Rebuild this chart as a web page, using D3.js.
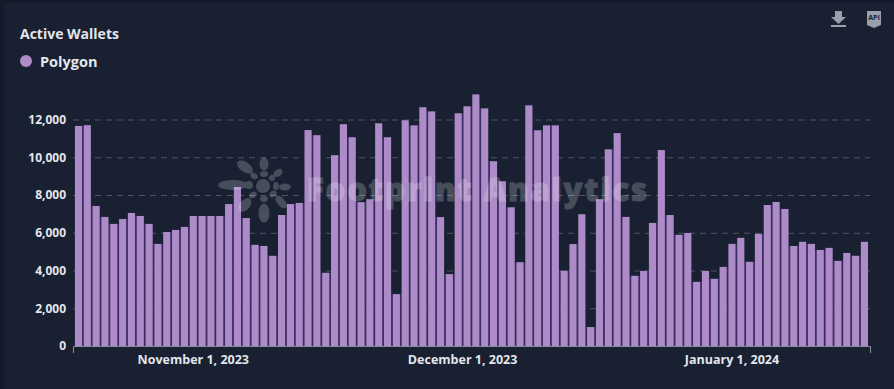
<!DOCTYPE html>
<html>
<head>
<meta charset="utf-8">
<script src="https://cdn.jsdelivr.net/npm/d3@7"></script>
<style>
  html, body { margin: 0; padding: 0; background: #131a2a; overflow: hidden; }
  text { font-family: "Open Sans", "Noto Sans", sans-serif; }
</style>
</head>
<body>
<div id="chart"></div>
<script>
const COLORS = {
  page:  '#131a2a',
  card:  '#182032',
  bar:   '#ad8bc9',
  gap:   '#3c2b60',
  text:  '#e3e6eb',
  grid:  '#4d5563',
  axis:  '#8a909b',
  icon:  '#9aa0ab',
}

const TITLE = 'Active Wallets'
const SERIES_NAME = 'Polygon'
const WATERMARK = 'Footprint Analytics'

// Une barre par jour, 19 oct. 2023 → 16 janv. 2024
const activeWallets = [
  11660, 11700, 7420, 6840, 6470, 6730, 7050, 6890, 6470, 5410,
  6040, 6150, 6310, 6890, 6890, 6890, 6890, 7520, 8420, 6780,
  5360, 5300, 4780, 6940, 7520, 7580, 11440, 11170, 3880, 10110,
  11750, 11060, 7620, 7780, 11800, 11060, 2750, 11960, 11690, 12650,
  12430, 6830, 3810, 12330, 12700, 13330, 12590, 9790, 8730, 7350,
  4440, 12750, 11430, 11690, 11690, 3990, 5400, 6980, 1005, 7780,
  10420, 11280, 6840, 3720, 3980, 6520, 10380, 6940, 5890, 5990,
  3400, 3980, 3560, 4190, 5410, 5730, 4460, 5940, 7470, 7630,
  7260, 5300, 5520, 5410, 5090, 5200, 4510, 4930, 4780, 5520,
]
const yTicks = [0, 2000, 4000, 6000, 8000, 10000, 12000]
const dateLabels = ['November 1, 2023', 'December 1, 2023', 'January 1, 2024']
const dateLabelSlots = [13, 43.5, 74]

const width = 894, height = 389
const plot = { left: 73, right: 870, top: 119.5, bottom: 346 }

const svg = d3.select('#chart').append('svg')
  .attr('width', width)
  .attr('height', height)
  .style('display', 'block')
  .attr('role', 'img')
  .attr('aria-label', `${TITLE} - ${SERIES_NAME}`)

// Carte
svg.append('rect')
  .attr('x', 4).attr('y', 3)
  .attr('width', width - 4).attr('height', height - 3)
  .attr('fill', COLORS.card)

// Echelles
const slots = d3.range(activeWallets.length)
const x = d3.scaleBand()
  .domain(slots)
  .range([74.1, 868.8])
  .paddingInner(0.19)
  .paddingOuter(0.09)

const xSlot = d3.scaleLinear()
  .domain([0, activeWallets.length - 1])
  .range([x(0) + x.bandwidth() / 2, x(activeWallets.length - 1) + x.bandwidth() / 2])

const y = d3.scaleLinear()
  .domain([0, 12000])
  .range([plot.bottom, plot.top])

// Grille pointillée
const grid = svg.append('g')
  .attr('transform', `translate(${plot.left},0)`)
  .call(d3.axisLeft(y).tickValues(yTicks.filter(d => d > 0)).tickSize(-(plot.right - plot.left)).tickFormat(''))
grid.select('.domain').remove()
grid.selectAll('.tick line')
  .attr('stroke', COLORS.grid)
  .attr('stroke-dasharray', '6 5')

// Axe Y
const yAxis = svg.append('g')
  .attr('transform', `translate(${plot.left},0)`)
  .call(d3.axisLeft(y).tickValues(yTicks).tickSize(0).tickPadding(7).tickFormat(d3.format(',')))
yAxis.select('.domain').remove()
yAxis.selectAll('.tick text')
  .attr('fill', COLORS.text)
  .attr('font-size', 12)
  .attr('font-weight', 700)
  .style('font-family', '"Open Sans", sans-serif')

// Interstices violet foncé entre barres voisines
svg.append('g').selectAll('rect')
  .data(activeWallets.slice(1))
  .join('rect')
  .attr('x', (d, i) => x(i) + x.bandwidth())
  .attr('y', (d, i) => y(Math.min(d, activeWallets[i])))
  .attr('width', x.step() - x.bandwidth())
  .attr('height', (d, i) => y(0) - y(Math.min(d, activeWallets[i])))
  .attr('fill', COLORS.gap)

// Barres
svg.append('g').selectAll('rect')
  .data(activeWallets)
  .join('rect')
  .attr('x', (d, i) => x(i))
  .attr('y', d => y(d))
  .attr('width', x.bandwidth())
  .attr('height', d => y(0) - y(d))
  .attr('fill', COLORS.bar)

// Axe X — ligne de base + petites marques aux extrémités
const xAxis = svg.append('g')
  .attr('transform', `translate(0,${plot.bottom})`)
xAxis.append('path')
  .attr('d', `M${plot.left + 0.5},7V0.5H${plot.right + 0.5}V7`)
  .attr('fill', 'none')
  .attr('stroke', COLORS.axis)
xAxis.selectAll('text')
  .data(dateLabels)
  .join('text')
  .attr('x', (d, i) => xSlot(dateLabelSlots[i]))
  .attr('y', 18)
  .attr('text-anchor', 'middle')
  .attr('fill', COLORS.text)
  .attr('font-size', 12.5)
  .attr('font-weight', 700)
  .text(d => d)

// Titre et légende
svg.append('text')
  .attr('x', 20).attr('y', 38.5)
  .attr('fill', COLORS.text)
  .attr('font-size', 14)
  .attr('font-weight', 700)
  .text(TITLE)
svg.append('circle')
  .attr('cx', 26).attr('cy', 61).attr('r', 6)
  .attr('fill', COLORS.bar)
svg.append('text')
  .attr('x', 40).attr('y', 66.5)
  .attr('fill', COLORS.text)
  .attr('font-size', 14.5)
  .attr('font-weight', 700)
  .text(SERIES_NAME)

// Filigrane
const mark = svg.append('g').attr('fill', '#ffffff').attr('opacity', 0.2)
const petals = [
  [263, 186, 7, 7, 0], [254, 176, 4, 3, 35], [264, 174, 4, 3, 0], [272, 178, 3, 3, 0],
  [276, 186, 3, 4, 0], [273, 194, 4, 3, -35], [264, 199, 4, 3, 0], [253, 195, 4, 3, -35],
  [249, 185, 4, 4, 0], [264, 164, 4.5, 6.5, 0], [245, 167, 9, 5, 35], [278, 173, 5, 3.5, -35],
  [285, 187, 6, 3.5, 0], [281, 202, 7.5, 4, 50], [264, 213, 5.5, 9.5, 0], [245, 205, 8, 5, -50],
  [233, 185, 15, 5, 0],
]
mark.selectAll('ellipse')
  .data(petals)
  .join('ellipse')
  .attr('transform', d => `translate(${d[0]},${d[1]}) rotate(${d[4]})`)
  .attr('rx', d => d[2])
  .attr('ry', d => d[3])
mark.append('text')
  .attr('x', 307).attr('y', 201)
  .attr('font-size', 31)
  .attr('font-weight', 800)
  .attr('stroke', '#ffffff')
  .attr('stroke-width', 1)
  .attr('textLength', 340)
  .attr('lengthAdjust', 'spacing')
  .text(WATERMARK)

// Icônes téléchargement et API
const icons = svg.append('g').attr('fill', COLORS.icon)
icons.append('path').attr('d', 'M835 11h7v6h4l-7.500 7-7.500-7h4z')
icons.append('rect').attr('x', 831).attr('y', 25).attr('width', 15).attr('height', 2)
icons.append('path').attr('d', 'M867 11h14v14l-7 3-7-3z')
icons.append('text')
  .attr('x', 874).attr('y', 20)
  .attr('text-anchor', 'middle')
  .attr('fill', COLORS.card)
  .attr('font-size', 7)
  .attr('font-weight', 700)
  .text('API')
</script>
</body>
</html>
